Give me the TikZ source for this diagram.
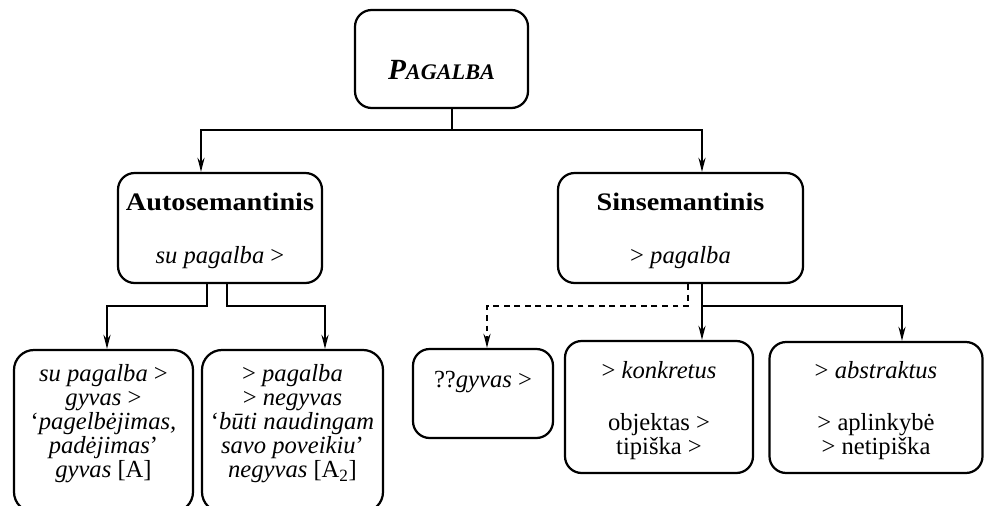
\documentclass[tikz,border=0pt]{standalone}
\usepackage{fontspec}
\setmainfont{Liberation Serif}
\newfontfamily\headfont[FakeStretch=1.12]{Liberation Serif}
\usetikzlibrary{arrows.meta,calc}
\tikzset{
  box/.style={draw, line width=1.9pt, rounded corners=0.5cm, inner sep=0pt},
  conn/.style={line width=1.9pt},
  arr/.style={conn, -{Stealth[length=12pt,width=6pt,inset=4pt]}},
  dasharr/.style={arr, dash pattern=on 5pt off 4pt},
  txt/.style={inner sep=0pt, align=center, font=\fontsize{21}{20.5}\selectfont},
  head/.style={inner sep=0pt, font=\headfont\bfseries\fontsize{21.5}{24}\selectfont},
}
\begin{document}
\begin{tikzpicture}[x=0.03cm,y=-0.03cm]
\useasboundingbox (0,0) rectangle (985,505);
\clip (0,0) rectangle (985,505);
% boxes
\node[box, minimum width=173*0.03cm, minimum height=98*0.03cm] (top) at (441.5,59) {};
\node[box, minimum width=204*0.03cm, minimum height=110*0.03cm] (auto) at (220,228) {};
\node[box, minimum width=245*0.03cm, minimum height=110*0.03cm] (sin) at (680.5,228) {};
\node[box, minimum width=179*0.03cm, minimum height=162*0.03cm, rounded corners=0.6cm] (b1) at (103.5,431) {};
\node[box, minimum width=181*0.03cm, minimum height=162*0.03cm, rounded corners=0.6cm] (b2) at (292.5,431) {};
\node[box, minimum width=140*0.03cm, minimum height=89*0.03cm] (q) at (483,393.5) {};
\node[box, minimum width=188*0.03cm, minimum height=132*0.03cm] (konk) at (659,407) {};
\node[box, minimum width=213*0.03cm, minimum height=131*0.03cm] (abs) at (876,407.5) {};
% texts
\node[inner sep=0pt, font=\bfseries\itshape] (toptxt) at (441.5,70) {{\fontsize{25}{26}\selectfont P}{\fontsize{19}{20}\selectfont AGALBA}};
\node[head] (autot) at (220,202) {Autosemantinis};
\node[txt] (autob) at (220,258) {\textit{su pagalba} >};
\node[head] (sint) at (680.5,202) {Sinsemantinis};
\node[txt] (sinb) at (680.5,258) {> \textit{pagalba}};
\node[txt, anchor=north] (b1t) at (103.5,364) {\textit{su pagalba} >\\ \textit{gyvas} >\\ `\textit{pagelbėjimas,}\\ \textit{padėjimas}'\\ \textit{gyvas} [A]};
\node[txt, anchor=north] (b2t) at (292.5,364) {> \textit{pagalba}\\ > \textit{negyvas}\\ `\textit{būti naudingam}\\ \textit{savo poveikiu}'\\ \textit{negyvas} [A\textsubscript{2}]};
\node[txt] (qt) at (483,382) {??\textit{gyvas} >};
\node[txt] (konkt) at (659,370) {> \textit{konkretus}};
\node[txt] (konkb) at (659,437) {objektas >\\ tipiška >};
\node[txt] (abst) at (876,370) {> \textit{abstraktus}};
\node[txt] (absb) at (876,437) {> aplinkybė\\ > netipiška};
% connectors
\coordinate (j1) at (452,130);
\draw[conn] (top.south -| j1) -- (j1);
\draw[arr] (j1) -| ($(auto.north)+(-19,0)$);
\draw[arr] (j1) -| ($(sin.north)+(21.5,0)$);
\draw[arr] ($(auto.south)+(-13,0)$) -- ++(0,22) -| ($(b1.north)+(3.5,0)$);
\draw[arr] ($(auto.south)+(7,0)$) -- ++(0,22) -| ($(b2.north)+(32.5,0)$);
\draw[dasharr] ($(sin.south)+(7.5,0)$) -- ++(0,22) -| ($(q.north)+(4,0)$);
\draw[arr] ($(sin.south)+(21.5,0)$) -- ($(konk.north)+(43,0)$);
\draw[arr] ($(sin.south)+(21.5,22)$) -| ($(abs.north)+(26,0)$);
\end{tikzpicture}
\end{document}
